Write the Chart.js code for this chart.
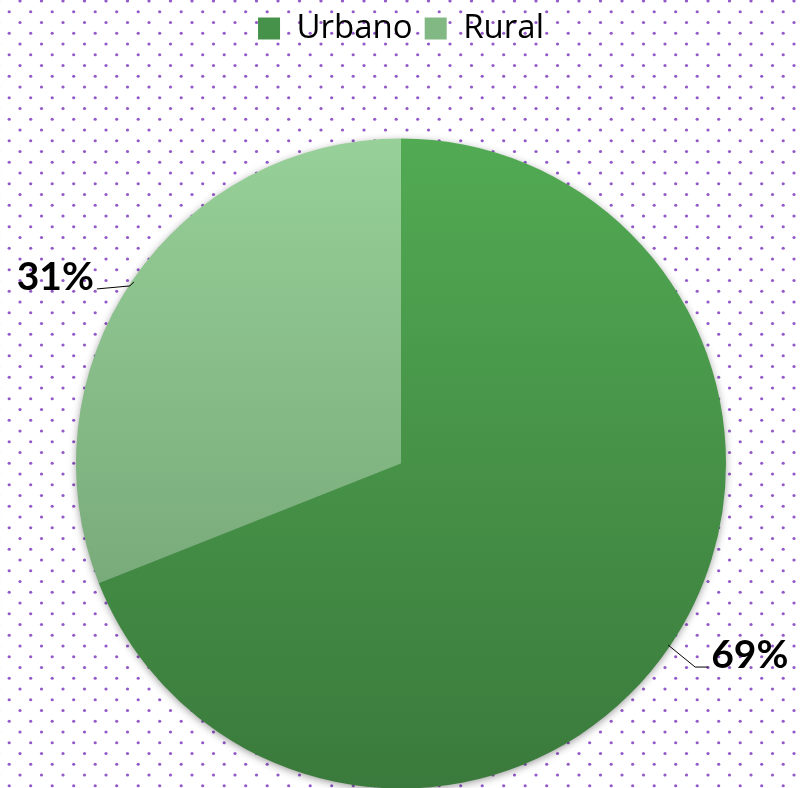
<!DOCTYPE html>
<html>
<head>
<meta charset="utf-8">
<script src="https://cdn.jsdelivr.net/npm/chart.js@4.4.0/dist/chart.umd.min.js"></script>
<style>
  html, body { margin: 0; padding: 0; background: #fff; overflow: hidden; }
  #caixa { width: 800px; height: 872px; position: relative; }
</style>
</head>
<body>
<div id="caixa"><canvas id="myChart"></canvas></div>
<script>
var categorias = ['Urbano', 'Rural'];
var valores = [69, 31];
var rotulos = ['69%', '31%'];

// cores: topo e base do degradê de cada fatia, e a cor média da legenda
var coresTopo = ['#52aa53', '#97d098'];
var coresBase = ['#3a7a3c', '#6b9a6c'];
var coresLegenda = ['#46924a', '#82b883'];

function degrade(context) {
    var chart = context.chart;
    var area = chart.chartArea;
    if (!area) return coresTopo[context.dataIndex];
    var cy = (area.top + area.bottom) / 2;
    var r = Math.min(area.right - area.left, area.bottom - area.top) / 2;
    if (!isFinite(cy) || !isFinite(r)) return coresTopo[context.dataIndex];
    var g = chart.ctx.createLinearGradient(0, cy - r, 0, cy + r);
    g.addColorStop(0, coresTopo[context.dataIndex]);
    g.addColorStop(1, coresBase[context.dataIndex]);
    return g;
}

var fundoPontilhado = {
    id: 'fundoPontilhado',
    beforeDraw: function(chart) {
        var ctx = chart.ctx;
        ctx.save();
        ctx.fillStyle = '#ffffff';
        ctx.fillRect(0, 0, chart.width, chart.height);
        ctx.fillStyle = 'rgba(128, 60, 190, 0.85)';
        var passo = 21.5;
        for (var lin = 0; lin * passo / 2 < chart.height + 10; lin++) {
            var y = 1 + lin * passo / 2;
            var x0 = (lin % 2 === 0) ? 20 : 9.2;
            for (var x = x0 - passo; x < chart.width + 10; x += passo) {
                ctx.beginPath();
                ctx.arc(x, y, 1.6, 0, Math.PI * 2);
                ctx.fill();
            }
        }
        ctx.restore();
    },
    beforeDatasetsDraw: function(chart) {
        var arc = chart.getDatasetMeta(0).data[0];
        if (!arc || !isFinite(arc.outerRadius)) return;
        var ctx = chart.ctx;
        ctx.save();
        ctx.shadowColor = 'rgba(0,0,0,0.45)';
        ctx.shadowBlur = 9;
        ctx.shadowOffsetY = 2;
        ctx.fillStyle = '#3a7a3c';
        ctx.beginPath();
        ctx.arc(arc.x, arc.y, arc.outerRadius - 1, 0, Math.PI * 2);
        ctx.fill();
        ctx.restore();
    }
};

var rotulosFatias = {
    id: 'rotulosFatias',
    afterDatasetsDraw: function(chart) {
        var ctx = chart.ctx;
        var meta = chart.getDatasetMeta(0);
        ctx.save();
        ctx.strokeStyle = '#000';
        ctx.lineWidth = 1;
        ctx.fillStyle = '#000';
        ctx.font = 'bold 39px Lato';
        ctx.textBaseline = 'middle';
        meta.data.forEach(function(arc, i) {
            var meio = (arc.startAngle + arc.endAngle) / 2;
            var r = arc.outerRadius;
            var px = arc.x + Math.cos(meio) * (r - 2);
            var py = arc.y + Math.sin(meio) * (r - 2);
            var direita = Math.cos(meio) >= 0;
            var qx, qy, fx;
            if (direita) {
                qx = px + 27; qy = py + 22;
                fx = qx + 13;
            } else {
                qx = px - 4; qy = py + 4;
                fx = qx - 33;
            }
            ctx.beginPath();
            ctx.moveTo(px, py);
            ctx.lineTo(qx, qy);
            ctx.lineTo(fx, direita ? qy : qy + 3);
            ctx.stroke();
            if (direita) {
                ctx.textAlign = 'left';
                ctx.fillText(rotulos[i], fx + 3, qy - 12);
            } else {
                ctx.textAlign = 'right';
                ctx.fillText(rotulos[i], fx - 3, qy - 9);
            }
        });
        ctx.restore();
    }
};

var ctx = document.getElementById('myChart');
var myChart = new Chart(ctx, {
    type: 'pie',
    data: {
        labels: categorias,
        datasets: [{
            data: valores,
            backgroundColor: degrade,
            borderWidth: 0,
            clip: false
        }]
    },
    options: {
        responsive: true,
        maintainAspectRatio: false,
        animation: false,
        layout: {
            padding: { top: 0, bottom: 0, left: 76, right: 74 }
        },
        plugins: {
            legend: {
                position: 'top',
                labels: {
                    boxWidth: 22,
                    boxHeight: 22,
                    padding: 12,
                    color: '#000',
                    font: { family: 'Open Sans', size: 33 },
                    generateLabels: function(chart) {
                        return categorias.map(function(nome, i) {
                            return {
                                text: nome,
                                fillStyle: coresLegenda[i],
                                strokeStyle: coresLegenda[i],
                                lineWidth: 0,
                                fontColor: '#000',
                                hidden: false,
                                index: i
                            };
                        });
                    }
                }
            },
            tooltip: { enabled: false }
        }
    },
    plugins: [fundoPontilhado, rotulosFatias]
});
</script>
</body>
</html>
